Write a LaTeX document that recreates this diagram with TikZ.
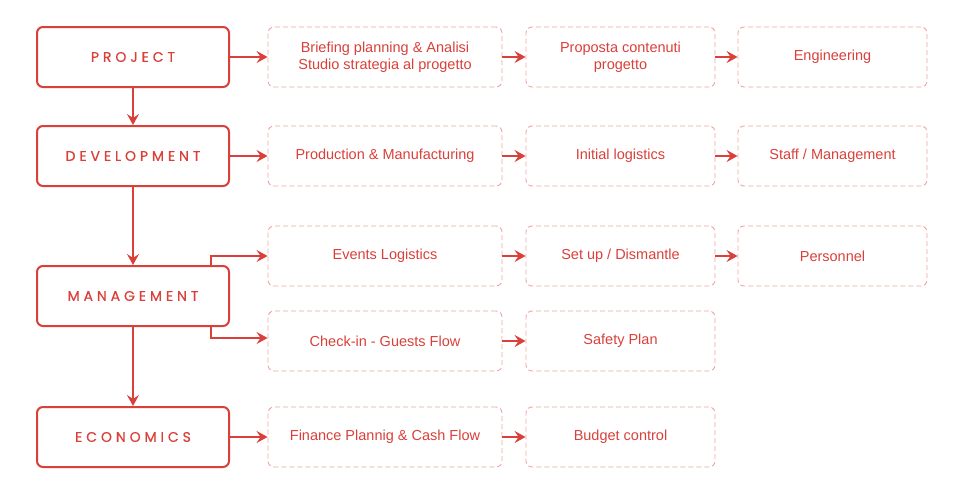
\documentclass[tikz,border=0pt]{standalone}
\usepackage{fontspec}
\setmainfont{Liberation Sans}
\newfontfamily\headfont[LetterSpace=28,FakeBold=0.6]{Poppins}
\usetikzlibrary{arrows.meta}
\definecolor{mred}{HTML}{D9403A}
\definecolor{lpink}{HTML}{F2A3A3}
\begin{document}
\begin{tikzpicture}[x=1pt,y=-1pt,
  mainbox/.style={draw=mred,line width=2pt,rounded corners=6pt,minimum width=192pt,minimum height=60pt,
    text=mred,font=\headfont\fontsize{14}{16}\selectfont,inner sep=0pt},
  subbox/.style={draw=lpink,line width=0.9pt,dash pattern=on 5pt off 3pt,rounded corners=6pt,minimum height=60pt,
    text=mred,font=\fontsize{14.5}{17}\selectfont,align=center,inner sep=0pt},
  wa/.style={minimum width=234pt},
  wb/.style={minimum width=189pt},
  conn/.style={draw=mred,line width=2pt,-{Stealth[length=11pt,width=12pt,inset=4pt]}}]
\useasboundingbox (0,0) rectangle (963,496);
% left boxes
\node[mainbox] (p) at (133,57) {PROJECT};
\node[mainbox] (d) at (133,156) {DEVELOPMENT};
\node[mainbox] (m) at (133,296) {MANAGEMENT};
\node[mainbox] (e) at (133,437) {ECONOMICS};
% row 1
\node[subbox,wa] (p1) at (385,57) {Briefing planning \& Analisi\\Studio strategia al progetto};
\node[subbox,wb] (p2) at (620.5,57) {Proposta contenuti\\progetto};
\node[subbox,wb] (p3) at (832.5,57) {Engineering};
% row 2
\node[subbox,wa] (d1) at (385,156) {Production \& Manufacturing};
\node[subbox,wb] (d2) at (620.5,156) {Initial logistics};
\node[subbox,wb] (d3) at (832.5,156) {Staff / Management};
% row 3
\node[subbox,wa] (m1) at (385,256) {Events Logistics};
\node[subbox,wb] (m2) at (620.5,256) {Set up / Dismantle};
\node[subbox,wb] (m3) at (832.5,256) {Personnel};
% row 4
\node[subbox,wa] (n1) at (385,341) {Check-in - Guests Flow};
\node[subbox,wb] (n2) at (620.5,341) {Safety Plan};
% row 5
\node[subbox,wa] (e1) at (385,437) {Finance Plannig \& Cash Flow};
\node[subbox,wb] (e2) at (620.5,437) {Budget control};
% vertical
\draw[conn] (p) -- (d);
\draw[conn] (d) -- (m);
\draw[conn] (m) -- (e);
% horizontal
\draw[conn] (p) -- (p1);
\draw[conn] (p1) -- (p2);
\draw[conn] (p2) -- (p3);
\draw[conn] (d) -- (d1);
\draw[conn] (d1) -- (d2);
\draw[conn] (d2) -- (d3);
\draw[conn] (m1) -- (m2);
\draw[conn] (m2) -- (m3);
\draw[conn] (n1) -- (n2);
\draw[conn] (e) -- (e1);
\draw[conn] (e1) -- (e2);
% management branches
\coordinate (mt) at ([xshift=-19pt]m.north east);
\coordinate (mb) at ([xshift=-19pt]m.south east);
\draw[conn] (mt) |- (m1.west);
\draw[conn] (mb) |- ([yshift=3pt]n1.west);
\end{tikzpicture}
\end{document}
